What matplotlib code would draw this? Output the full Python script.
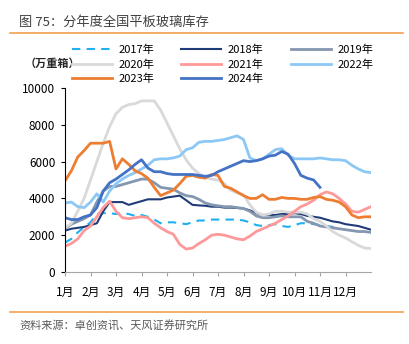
import numpy as np
import matplotlib
matplotlib.use("Agg")
import matplotlib.pyplot as plt
from matplotlib.lines import Line2D

plt.rcParams['font.family'] = ['Noto Sans CJK SC', 'DejaVu Sans']

# weekly points, 4 per month
months = ['1月', '2月', '3月', '4月', '5月', '6月', '7月', '8月', '9月', '10月', '11月', '12月']

y2017 = [1600, 1800, 2150, 2450, 2700, 3150, 3200, 3200, 3150, 3200, 3150, 3050, 3100, 3000, 2850, 2650,
         2700, 2700, 2650, 2600, 2700, 2800, 2800, 2850, 2850, 2850, 2850, 2850, 2800, 2700, 2550, 2500,
         2550, 2600, 2500, 2450, 2550, 2650, 2650, 2600, 2550, 2500, 2450, 2400]
y2018 = [2250, 2350, 2400, 2450, 2550, 2650, 3300, 3800, 3800, 3800, 3650, 3750, 3850, 3950, 3950, 3950,
         4050, 4100, 4150, 3900, 3650, 3620, 3600, 3550, 3550, 3500, 3500, 3480, 3450, 3350, 3200, 3100,
         3100, 3100, 3150, 3150, 3200, 3150, 3050, 3000, 2950, 2850, 2750, 2700, 2600, 2550, 2500, 2400, 2300]
y2019 = [2350, 2600, 2750, 2900, 3100, 3800, 4400, 4650, 4650, 4750, 4850, 4950, 5050, 5050, 4850, 4600,
         4550, 4500, 4300, 4150, 4100, 3950, 3750, 3650, 3600, 3550, 3550, 3500, 3450, 3300, 3050, 2950,
         2950, 3000, 3050, 3000, 3000, 3000, 2750, 2650, 2500, 2450, 2400, 2350, 2300, 2250, 2200, 2200, 2150]
y2020 = [2400, 2650, 3300, 4000, 5000, 6000, 7000, 7900, 8600, 8950, 9100, 9150, 9300, 9300, 9300, 8800,
         8100, 7400, 6700, 6100, 5650, 5350, 5150, 5050, 5000, 4800, 4450, 4300, 4200, 3650, 3250, 3100,
         3150, 3300, 3300, 3250, 3250, 3250, 3150, 2900, 2750, 2500, 2200, 2000, 1850, 1650, 1450, 1300, 1280]
y2021 = [1400, 1550, 1800, 2250, 2500, 3000, 3500, 3850, 3300, 2950, 2900, 2950, 3000, 2950, 2650, 2400,
         2200, 2050, 1500, 1250, 1300, 1550, 1750, 2000, 2050, 2000, 1900, 1800, 1750, 1950, 2200, 2350,
         2500, 2650, 2850, 3050, 3300, 3550, 3700, 3900, 4200, 4350, 4250, 4000, 3700, 3300, 3250, 3400, 3550]
y2022 = [3750, 3800, 3550, 3500, 3800, 4250, 3800, 4400, 4800, 5050, 5250, 5400, 5600, 5800, 6100, 6150,
         6150, 6200, 6300, 6650, 6750, 7050, 7100, 7100, 7150, 7200, 7300, 7400, 7200, 6200, 6050, 6150,
         6400, 6650, 6700, 6350, 6150, 6150, 6150, 6150, 6200, 6150, 6100, 6100, 6050, 5800, 5600, 5450, 5400]
y2023 = [4950, 5500, 6250, 6600, 7000, 7000, 7000, 7100, 5600, 6150, 5850, 5500, 5350, 5100, 4600, 4150,
         4300, 4450, 4800, 5200, 5250, 5150, 5100, 5300, 5250, 4650, 4550, 4350, 4150, 4000, 4000, 4200,
         3950, 3950, 4050, 4000, 4000, 3950, 3950, 4050, 4100, 3950, 3900, 3800, 3550, 3100, 2950, 3000, 3000]
y2024 = [2950, 2850, 2850, 3000, 3100, 3500, 4400, 4850, 5050, 5300, 5550, 5850, 6100, 5650, 5450, 5450,
         5350, 5300, 5300, 5300, 5300, 5250, 5200, 5250, 5450, 5600, 5750, 5900, 6050, 6000, 6050, 6150,
         6300, 6350, 6550, 6400, 5900, 5250, 5100, 5000, 4600]

series = [
    ('2017年', y2017, '#1fb0f0', 1.5, '--'),
    ('2018年', y2018, '#1f3c78', 1.5, '-'),
    ('2019年', y2019, '#8497b0', 2.0, '-'),
    ('2020年', y2020, '#d9d9d9', 2.0, '-'),
    ('2021年', y2021, '#ff9999', 2.0, '-'),
    ('2022年', y2022, '#8cc8f5', 2.0, '-'),
    ('2023年', y2023, '#ed7d31', 2.0, '-'),
    ('2024年', y2024, '#4472c4', 2.0, '-'),
]

fig = plt.figure(figsize=(4.09, 3.44), dpi=100)
ax = fig.add_axes([65 / 409, 1 - 272 / 344, 306 / 409, 184 / 344])

handles = {}
for name, vals, col, lw, ls in series:
    x = 1 + np.arange(len(vals)) / 4
    if ls == '--':
        ln, = ax.plot(x, vals, color=col, lw=lw, ls=(0, (4, 3)))
    else:
        ln, = ax.plot(x, vals, color=col, lw=lw, ls=ls)
    handles[name] = ln

ax.set_xlim(1, 13)
ax.set_ylim(0, 10000)
ax.set_yticks(range(0, 10001, 2000))
ax.set_xticks(range(1, 13))
ax.set_xticklabels(months)
ax.tick_params(axis='y', labelsize=8.5, length=3, direction='out', pad=4)
ax.tick_params(axis='x', labelsize=8.5, length=3, direction='out', color='#a6a6a6', pad=7)
for s in ['top', 'right']:
    ax.spines[s].set_visible(False)
ax.spines['left'].set_color('black')
ax.spines['bottom'].set_color('#a6a6a6')

# legend rows: 2017 2018 2019 / 2020 2021 2022 / 2023 2024 (column-major order)
order = ['2017年', '2020年', '2023年', '2018年', '2021年', '2024年', '2019年', '2022年']
fig.legend([handles[k] for k in order], order, ncol=3, loc='upper left',
           bbox_to_anchor=(72 / 409, 1 - 45 / 344), frameon=False, fontsize=8,
           handlelength=3.6, handletextpad=0.6, columnspacing=2.4, labelspacing=0.36,
           borderpad=0, borderaxespad=0)

fig.text(19 / 409, 1 - 22 / 344, '图 75：分年度全国平板玻璃库存', fontsize=9.5, color='#404040',
         va='center', ha='left')
fig.add_artist(Line2D([10 / 409, 403 / 409], [1 - 33 / 344, 1 - 33 / 344], color='#f4a050', lw=1.2))
fig.text(25 / 409, 1 - 63 / 344, '（万重箱）', fontsize=8, fontweight='bold', color='#262626',
         va='center', ha='left')
fig.add_artist(Line2D([10 / 409, 403 / 409], [1 - 312 / 344, 1 - 312 / 344], color='#f4a050', lw=1.2))
fig.text(19 / 409, 1 - 326 / 344, '资料来源：卓创资讯、天风证券研究所', fontsize=8, color='#595959',
         va='center', ha='left')

fig.savefig('out.png', dpi=100)
